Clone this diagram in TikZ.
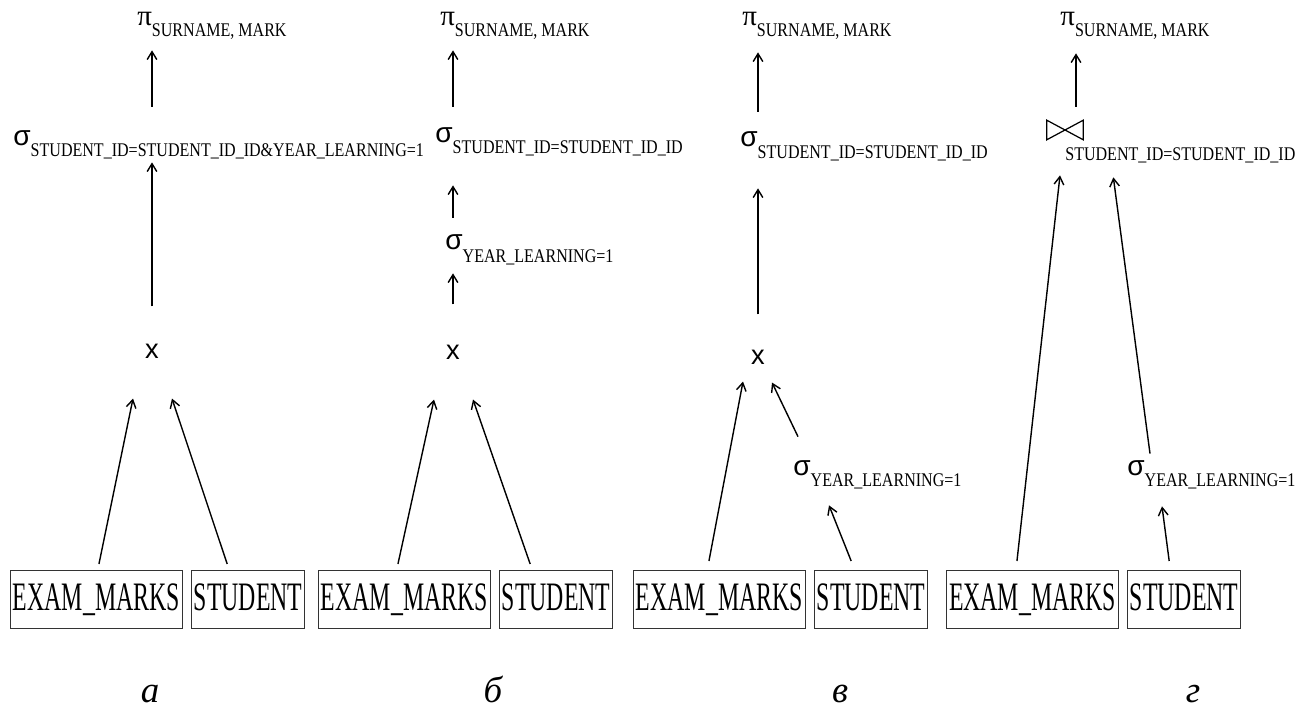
\documentclass[tikz,border=0pt]{standalone}
\usepackage{fontspec}
\setmainfont{Liberation Serif}
\newfontfamily\boxfont[FakeStretch=0.59]{Liberation Serif}
\newfontfamily\subfont[FakeStretch=0.83]{Liberation Serif}
\newfontfamily\sansgrk{Liberation Sans}
\usetikzlibrary{positioning,arrows.meta}

\newcommand{\projop}[1]{{\fontsize{16.5}{18}\selectfont π}\raisebox{-6.2pt}{\subfont\fontsize{11}{13}\selectfont #1}}
\newcommand{\selop}[2][5.7pt]{{\sansgrk\fontsize{16}{18}\selectfont σ}\raisebox{-#1}{\subfont\fontsize{11}{13}\selectfont #2}}

\begin{document}
\begin{tikzpicture}[x=0.02cm, y=-0.02cm,
    arr/.style={-{Straight Barb[length=4.5pt,width=5.5pt]}, line width=0.8pt},
    gap/.style 2 args={shorten <=#1, shorten >=#2},
    op/.style={anchor=base west, inner sep=0pt, text height=0.28cm, text depth=0pt},
    cross/.style={inner sep=0pt, font=\sansgrk\fontsize{15.5}{17}\selectfont},
    tbl/.style={draw=black!80, line width=0.6pt, inner xsep=1.4pt, inner ysep=0pt,
        text height=0.54cm, text depth=0.1cm, minimum height=1.16cm,
        anchor=north west, font=\boxfont\fontsize{23}{28}\selectfont},
    caplbl/.style={anchor=base, inner sep=0pt, font=\itshape\fontsize{21}{24}\selectfont}]
  \useasboundingbox (0,0) rectangle (1311,709);

  % a
  \node[op] (pia) at (137,26) {\projop{SURNAME, MARK}};
  \node[op] (sga) at (13,146) {\selop{STUDENT\_ID=STUDENT\_ID\_ID\&YEAR\_LEARNING=1}};
  \node[cross] (xa) at (152,351) {x};
  \node[tbl] (ema) at (10,570) {EXAM\_MARKS};
  \node[tbl, right=0.16cm of ema] (sta) {STUDENT};
  \draw[arr, gap={.5cm}{.48cm}] (xa |- sga.north) -- (xa |- pia.south);
  \draw[arr, gap={.74cm}{.32cm}] (xa.north) -- (xa |- sga.south);
  \draw[arr] ([shift={(2.5,-6)}]ema.north) -- ([shift={(-19,40)}]xa.south);
  \draw[arr] ([shift={(-21,-6)}]sta.north) -- ([shift={(20,40)}]xa.south);

  % b
  \node[op] (pib) at (440,26) {\projop{SURNAME, MARK}};
  \node[op] (sgb) at (435,143) {\selop{STUDENT\_ID=STUDENT\_ID\_ID}};
  \node[op] (syb) at (445,250) {\selop[7.4pt]{YEAR\_LEARNING=1}};
  \node[cross] (xb) at (453,352) {x};
  \node[tbl] (emb) at (318,570) {EXAM\_MARKS};
  \node[tbl, right=0.16cm of emb] (stb) {STUDENT};
  \draw[arr, gap={.44cm}{.48cm}] (xb |- sgb.north) -- (xb |- pib.south);
  \draw[arr, gap={.36cm}{.84cm}] (xb |- syb.north) -- (xb |- sgb.south);
  \draw[arr, gap={.8cm}{.46cm}] (xb.north) -- (xb |- syb.south);
  \draw[arr] ([shift={(-6.5,-6)}]emb.north) -- ([shift={(-19,40)}]xb.south);
  \draw[arr] ([shift={(-26,-6)}]stb.north) -- ([shift={(20,40)}]xb.south);

  % c
  \node[op] (pic) at (742,26) {\projop{SURNAME, MARK}};
  \node[op] (sgc) at (740,147) {\selop[6.8pt]{STUDENT\_ID=STUDENT\_ID\_ID}};
  \node[cross] (xc) at (758,357) {x};
  \node[op] (syc) at (793,475) {\selop[6.8pt]{YEAR\_LEARNING=1}};
  \node[tbl] (emc) at (633,570) {EXAM\_MARKS};
  \node[tbl, right=0.16cm of emc] (stc) {STUDENT};
  \draw[arr, gap={.42cm}{.52cm}] (xc |- sgc.north) -- (xc |- pic.south);
  \draw[arr, gap={.7cm}{.82cm}] (xc.north) -- (xc |- sgc.south);
  \draw[arr] ([shift={(-10.5,-9)}]emc.north) -- ([shift={(-15,17)}]xc.south);
  \draw[arr] ([shift={(5,-24)}]syc.north west) -- ([shift={(14,18)}]xc.south);
  \draw[arr] ([shift={(-20,-9)}]stc.north) -- ([shift={(36,30)}]syc.south west);

  % d
  \node[op] (pid) at (1060,26) {\projop{SURNAME, MARK}};
  \node[minimum width=0.72cm, minimum height=0.38cm, inner sep=0pt] (jd) at (1065,130) {};
  \draw[line width=0.7pt] (jd.north west) -- (jd.south east) -- (jd.north east) -- (jd.south west) -- cycle;
  \node[op] (jds) at (1065,161) {\subfont\fontsize{11}{13}\selectfont STUDENT\_ID=STUDENT\_ID\_ID};
  \node[op] (syd) at (1127,475) {\selop[6.8pt]{YEAR\_LEARNING=1}};
  \node[tbl] (emd) at (946,570) {EXAM\_MARKS};
  \node[tbl, right=0.16cm of emd] (std) {STUDENT};
  \draw[arr] ([shift={(11,-13.5)}]jd.north) -- ([shift={(16,27)}]pid.south west);
  \draw[arr] ([shift={(-15.5,-9)}]emd.north) -- ([shift={(-5,35.5)}]jd.south);
  \draw[arr] ([shift={(23,-7)}]syd.north west) -- ([shift={(30,37.5)}]jd.south east);
  \draw[arr] ([shift={(-15,-9)}]std.north) -- ([shift={(35,31)}]syd.south west);

  % captions
  \node[caplbl] (ca) at (150,702) {а};
  \node[caplbl] (cb) at (493,702) {б};
  \node[caplbl] (cc) at (840,702) {в};
  \node[caplbl] (cd) at (1193,702) {г};
\end{tikzpicture}
\end{document}
